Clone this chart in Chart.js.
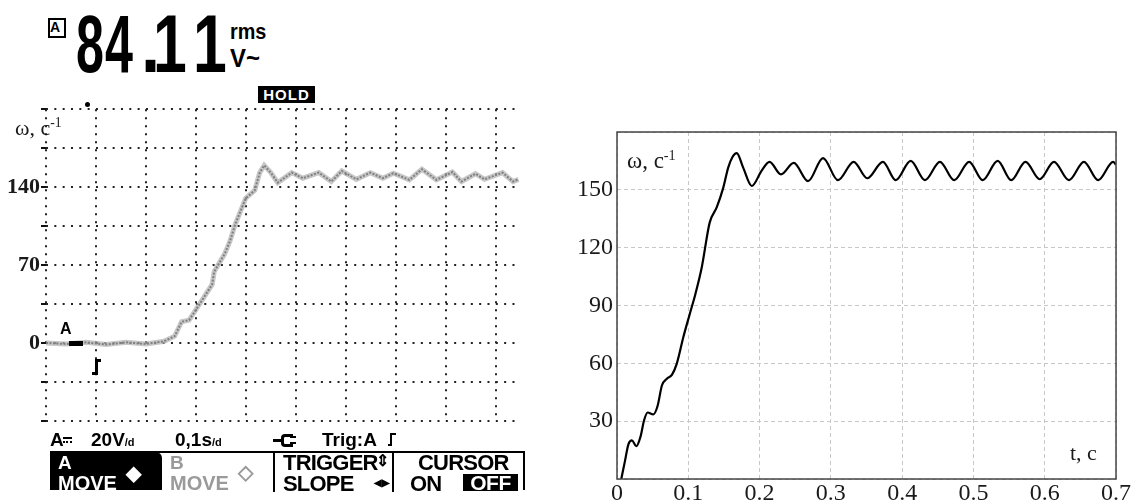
<!DOCTYPE html>
<html>
<head>
<meta charset="utf-8">
<script src="https://cdn.jsdelivr.net/npm/chart.js@4.4.0/dist/chart.umd.min.js"></script>
<style>
  body { margin: 0; width: 1136px; height: 504px; background: #fff; position: relative; overflow: hidden; }
  .abs { position: absolute; white-space: nowrap; }
  .lcd { font-family: "Liberation Sans", Arial, sans-serif; font-weight: bold; color: #000; line-height: 1; }
  .big { font-size: 81px; top: 4px; transform-origin: 0 0; }
  .serif { font-family: "Liberation Serif", "Times New Roman", serif; color: #1a1a1a; line-height: 1; }
  .serif sup { font-size: 0.62em; vertical-align: 0.55em; }
  #scopeWrap { left: 0; top: 95px; }
  #plotWrap { left: 570px; top: 100px; }
  .bar { background: #000; }
</style>
</head>
<body>

<!-- oscilloscope header -->
<div class="abs" style="left:48px;top:18px;width:14px;height:16px;border:2px solid #000;"></div>
<div class="abs lcd" style="left:50px;top:20px;font-size:14px;">A</div>
<div class="abs lcd big" style="left:76px;transform:scaleX(0.62);">8</div>
<div class="abs lcd big" style="left:105px;transform:scaleX(0.62);">4</div>
<div class="abs lcd big" style="left:141px;transform:scaleX(0.85);">.</div>
<div class="abs lcd big" style="left:153px;transform:scaleX(0.75);">1</div>
<div class="abs lcd big" style="left:193px;transform:scaleX(0.75);">1</div>
<div class="abs lcd" style="left:230px;top:21px;font-size:22px;transform-origin:0 0;transform:scaleX(0.9);">rms</div>
<div class="abs lcd" style="left:230px;top:45px;font-size:26px;transform-origin:0 0;transform:scaleX(0.92);">V~</div>
<div class="abs lcd" style="left:258px;top:86px;width:57px;height:17px;background:#000;color:#fff;font-size:15px;text-align:center;line-height:17px;letter-spacing:1px;z-index:3;">HOLD</div>
<div class="abs" style="left:85px;top:102px;width:5px;height:5px;border-radius:3px;background:#000;z-index:3;"></div>

<div class="abs serif" style="left:15px;top:116px;font-size:22px;z-index:3;">ω, c<sup>-1</sup></div>

<div class="abs" id="scopeWrap"><canvas id="scopeChart" width="540" height="340"></canvas></div>

<!-- channel markers on the scope trace -->
<div class="abs lcd" style="left:60px;top:321px;font-size:16px;z-index:3;">A</div>
<div class="abs bar" style="left:69px;top:341px;width:14px;height:5px;z-index:3;"></div>
<div class="abs bar" style="left:92px;top:372px;width:5px;height:3px;z-index:3;"></div>
<div class="abs bar" style="left:95px;top:359px;width:3px;height:16px;z-index:3;"></div>
<div class="abs bar" style="left:95px;top:359px;width:6px;height:3px;z-index:3;"></div>

<!-- status line -->
<div class="abs lcd" style="left:50px;top:430px;font-size:19px;">A</div>
<div class="abs" style="left:63px;top:437px;width:9px;height:2px;background:#000;"></div>
<div class="abs" style="left:63px;top:441px;width:9px;height:0;border-top:2px dotted #000;"></div>
<div class="abs lcd" style="left:91px;top:430px;font-size:19px;">20V<span style="font-size:11px;">/d</span></div>
<div class="abs lcd" style="left:175px;top:430px;font-size:19px;">0,1s<span style="font-size:11px;">/d</span></div>
<div class="abs" style="left:273px;top:439px;width:8px;height:3px;background:#000;"></div>
<div class="abs" style="left:281px;top:434px;width:9px;height:7px;border:3px solid #000;border-right:none;border-radius:4px 0 0 4px;"></div>
<div class="abs" style="left:290px;top:436px;width:6px;height:2px;background:#000;"></div>
<div class="abs" style="left:290px;top:442px;width:6px;height:2px;background:#000;"></div>
<div class="abs lcd" style="left:322px;top:430px;font-size:19px;">Trig:A</div>
<div class="abs bar" style="left:388px;top:444px;width:4px;height:2px;"></div>
<div class="abs bar" style="left:390px;top:433px;width:2px;height:13px;"></div>
<div class="abs bar" style="left:390px;top:433px;width:6px;height:2px;"></div>

<!-- soft-key menu -->
<div class="abs" style="left:50px;top:451px;width:475px;height:2px;background:#000;"></div>
<div class="abs" style="left:50px;top:452px;width:112px;height:38px;background:#000;border-top-right-radius:6px;"></div>
<div class="abs lcd" style="left:58px;top:453px;font-size:19px;color:#fff;">A</div>
<div class="abs lcd" style="left:58px;top:473px;font-size:20px;color:#fff;">MOVE</div>
<div class="abs lcd" style="left:126px;top:463px;font-size:20px;color:#fff;">◆</div>
<div class="abs lcd" style="left:170px;top:453px;font-size:19px;color:#9a9a9a;">B</div>
<div class="abs lcd" style="left:170px;top:473px;font-size:20px;color:#9a9a9a;">MOVE</div>
<div class="abs lcd" style="left:238px;top:462px;font-size:20px;color:#9a9a9a;">◇</div>
<div class="abs" style="left:273px;top:452px;width:2px;height:40px;background:#000;"></div>
<div class="abs" style="left:392px;top:452px;width:2px;height:40px;background:#000;"></div>
<div class="abs" style="left:523px;top:452px;width:2px;height:38px;background:#000;"></div>
<div class="abs lcd" style="left:283px;top:452px;font-size:22px;letter-spacing:-0.8px;">TRIGGER</div>
<div class="abs lcd" style="left:376px;top:453px;font-size:16px;">⇕</div>
<div class="abs lcd" style="left:283px;top:473px;font-size:22px;letter-spacing:-0.8px;">SLOPE</div>
<div class="abs lcd" style="left:374px;top:478px;font-size:10px;">◀▶</div>
<div class="abs lcd" style="left:418px;top:452px;font-size:22px;letter-spacing:-0.8px;">CURSOR</div>
<div class="abs lcd" style="left:410px;top:473px;font-size:22px;letter-spacing:-0.8px;">ON</div>
<div class="abs lcd" style="left:463px;top:474px;width:55px;height:17px;background:#000;color:#fff;font-size:21px;line-height:18px;text-align:center;letter-spacing:-0.5px;">OFF</div>

<!-- right plot -->
<div class="abs" id="plotWrap"><canvas id="plotChart" width="566" height="404"></canvas></div>
<div class="abs serif" style="left:627px;top:148px;font-size:23px;">ω, c<sup>-1</sup></div>
<div class="abs serif" style="left:1070px;top:442px;font-size:22px;">t, c</div>

<script>
// oscilloscope trace (time in s, 0.1 s/div; ω in c^-1)
const scopeTime = [0, 0.04, 0.08, 0.12, 0.16, 0.2, 0.236, 0.257, 0.271, 0.286, 0.307,
  0.332, 0.336, 0.357, 0.368, 0.378, 0.399, 0.417, 0.427, 0.436, 0.449,
  0.463, 0.491, 0.513, 0.545, 0.570, 0.591, 0.620, 0.648, 0.673, 0.694,
  0.726, 0.751, 0.780, 0.812, 0.830, 0.858, 0.876, 0.912, 0.933, 0.944];
const scopeOmega = [0, -1, 0.5, -1.5, 0.5, -1, 1.5, 6, 19, 20.5, 35,
  52.5, 64, 80, 92, 106.5, 130, 137, 153, 159.5, 153,
  144, 153, 148, 153, 145, 154.5, 147, 153, 148, 152.5,
  146.5, 156, 146.5, 153.5, 145, 152, 147, 153, 145, 147];
const scopeTickLabels = [0, 70, 140];

// simulated curve
const rightTime = [0.006, 0.011, 0.016, 0.021, 0.027, 0.033, 0.038, 0.043,
  0.051, 0.057, 0.063, 0.07, 0.077, 0.084, 0.093, 0.102, 0.11, 0.119,
  0.13, 0.14, 0.149, 0.156, 0.162, 0.168, 0.177, 0.189, 0.203, 0.214,
  0.23, 0.248, 0.268, 0.289, 0.31, 0.332, 0.351, 0.373, 0.391, 0.412,
  0.432, 0.453, 0.473, 0.494, 0.513, 0.534, 0.553, 0.573, 0.593, 0.613,
  0.634, 0.655, 0.675, 0.696, 0.7];
const rightOmega = [0, 9, 18, 20, 17, 22, 30.5, 34.5,
  33.5, 38, 48.5, 52, 54, 60, 73.5, 85.5, 96, 110,
  133, 141, 151, 161.5, 167, 169, 161.5, 152, 160, 164.5,
  158, 164, 154.5, 166.5, 155, 164.5, 156, 164.5, 155, 165,
  155, 164.5, 155, 164.5, 155, 165, 155, 164.5, 155.5, 164.5,
  155, 164.5, 155, 164.5, 163];
const rightYTicks = [30, 60, 90, 120, 150];

const toPoints = (xs, ys) => xs.map((x, i) => ({ x: x, y: ys[i] }));

// ---- left: scope screen ----
const scopePts = toPoints(scopeTime, scopeOmega);
new Chart(document.getElementById('scopeChart'), {
  type: 'line',
  data: {
    datasets: [
      { data: scopePts, borderColor: 'rgba(175,175,175,0.7)', borderWidth: 5, pointRadius: 0, tension: 0 },
      { data: scopePts, borderColor: '#111', borderWidth: 2, borderDash: [2, 1.5], pointRadius: 0, tension: 0 }
    ]
  },
  options: {
    responsive: false,
    animation: false,
    layout: { padding: { top: 10, right: 20, bottom: 10, left: 0 } },
    plugins: { legend: { display: false }, tooltip: { enabled: false } },
    scales: {
      x: {
        type: 'linear', min: 0, max: 0.947,
        afterFit: (s) => { s.height = 0; },
        ticks: { display: false, stepSize: 0.1, includeBounds: false },
        grid: { color: '#222', lineWidth: 2, drawTicks: false },
        border: { display: false, dash: [2, 6] }
      },
      y: {
        min: -70, max: 210,
        afterFit: (s) => { s.width = 46; },
        ticks: {
          stepSize: 35, padding: 1, color: '#1a1a1a',
          font: { family: 'Liberation Serif', size: 22, weight: 'bold' },
          callback: (v) => scopeTickLabels.includes(v) ? String(v) : ''
        },
        grid: { color: '#222', lineWidth: 2, tickLength: 5, tickWidth: 2, tickColor: '#111' },
        border: { display: false, dash: [2, 6.33] }
      }
    }
  }
});

// ---- right: simulation ----
const frame = {
  id: 'frame',
  afterDraw(chart) {
    const { ctx, chartArea: a } = chart;
    ctx.save();
    ctx.strokeStyle = '#444';
    ctx.lineWidth = 1.5;
    ctx.strokeRect(a.left, a.top, a.right - a.left, a.bottom - a.top);
    ctx.restore();
  }
};

new Chart(document.getElementById('plotChart'), {
  type: 'line',
  data: {
    datasets: [{
      data: toPoints(rightTime, rightOmega),
      borderColor: '#000', borderWidth: 2.2, pointRadius: 0,
      cubicInterpolationMode: 'monotone'
    }]
  },
  plugins: [frame],
  options: {
    responsive: false,
    animation: false,
    layout: { padding: { top: 32, right: 20, bottom: 0, left: 0 } },
    plugins: { legend: { display: false }, tooltip: { enabled: false } },
    scales: {
      x: {
        type: 'linear', min: 0, max: 0.7,
        afterFit: (s) => { s.height = 25; },
        ticks: {
          stepSize: 0.1, padding: 3, color: '#1a1a1a',
          font: { family: 'Liberation Serif', size: 24, lineHeight: 1 },
          callback: (v) => v === 0 ? '0' : v.toFixed(1)
        },
        grid: { color: '#c8c8c8', lineWidth: 1, drawTicks: false },
        border: { display: false, dash: [4, 3] }
      },
      y: {
        min: 0, max: 180,
        afterFit: (s) => { s.width = 47; },
        ticks: {
          stepSize: 30, padding: 4, color: '#1a1a1a',
          font: { family: 'Liberation Serif', size: 24 },
          callback: (v) => rightYTicks.includes(v) ? String(v) : ''
        },
        grid: { color: '#c8c8c8', lineWidth: 1, drawTicks: false },
        border: { display: false, dash: [4, 3] }
      }
    }
  }
});
</script>
</body>
</html>
